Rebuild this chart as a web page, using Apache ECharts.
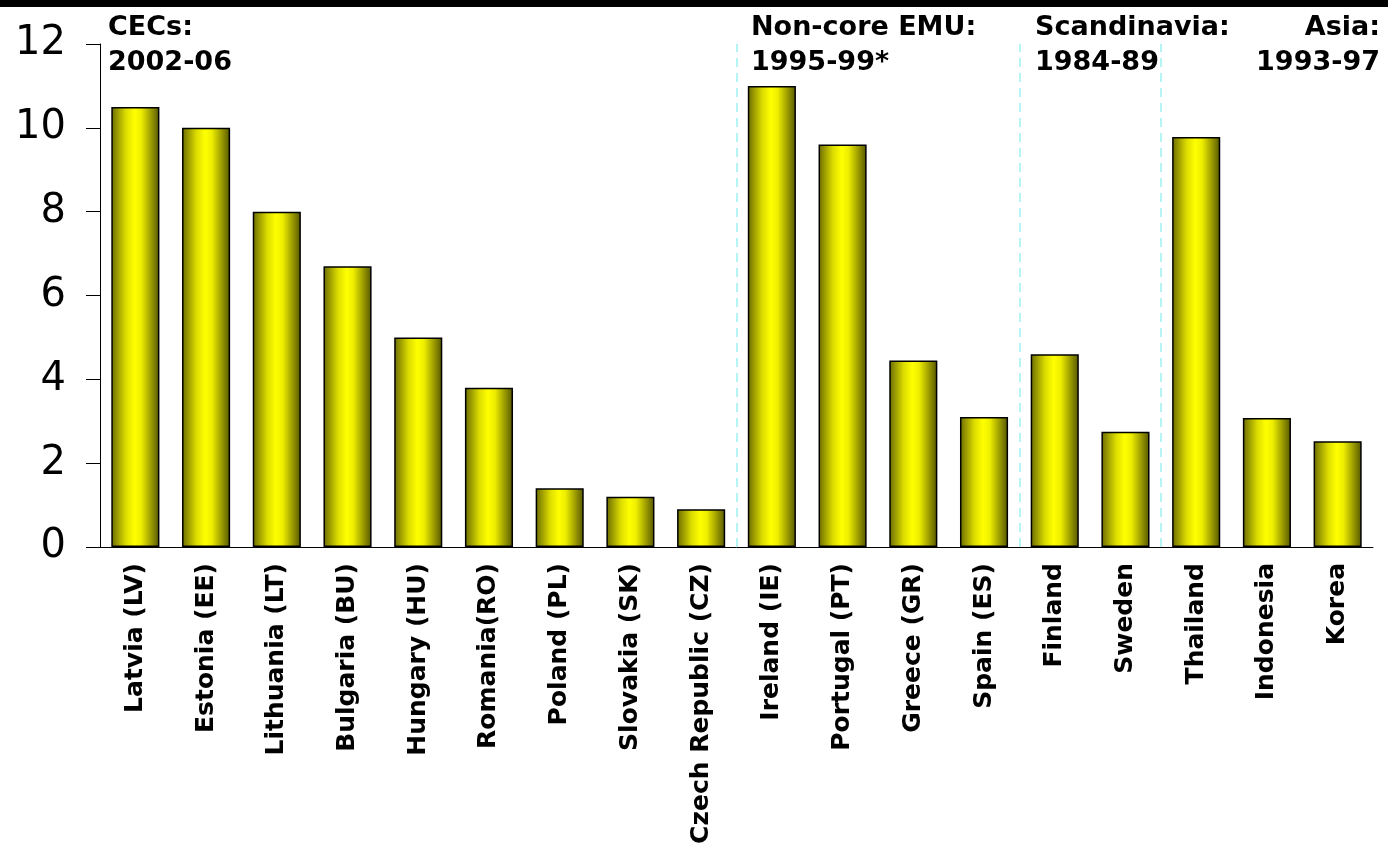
<!DOCTYPE html>
<html>
<head>
    <meta charset="UTF-8">
    <title>Chart</title>
    <script src="https://cdn.jsdelivr.net/npm/echarts@6/dist/echarts.min.js"></script>
    <style>
        body { margin: 0; padding: 0; background: #fff; }
        #chart { width: 1388px; height: 852px; }
    </style>
</head>
<body>
    <div id="chart"></div>
    <script>
        // categories and values
        const countries = [
            'Latvia (LV)', 'Estonia (EE)', 'Lithuania (LT)', 'Bulgaria (BU)', 'Hungary (HU)',
            'Romania(RO)', 'Poland (PL)', 'Slovakia (SK)', 'Czech Republic (CZ)',
            'Ireland (IE)', 'Portugal (PT)', 'Greece (GR)', 'Spain (ES)',
            'Finland', 'Sweden', 'Thailand', 'Indonesia', 'Korea'
        ];
        const values = [10.5, 10.0, 8.0, 6.7, 5.0, 3.8, 1.4, 1.2, 0.9,
                        11.0, 9.6, 4.45, 3.1, 4.6, 2.75, 9.78, 3.08, 2.52];
        // group separators (category boundaries)
        const separators = [9, 13, 15];
        const yTicks = [0, 2, 4, 6, 8, 10, 12];

        const myChart = echarts.init(document.getElementById('chart'));

        const font = 'DejaVu Sans, Verdana, sans-serif';
        const barColor = new echarts.graphic.LinearGradient(0, 0, 1, 0, [
            { offset: 0, color: '#6a6a00' },
            { offset: 0.3, color: '#dcdc00' },
            { offset: 0.48, color: '#ffff00' },
            { offset: 0.62, color: '#eeee00' },
            { offset: 1, color: '#555500' }
        ]);

        const groupText = (x, y, text, align) => ({
            type: 'text',
            left: align === 'right' ? null : x,
            right: align === 'right' ? x : null,
            top: y,
            style: {
                text: text,
                font: 'bold 27px ' + font,
                fill: '#000',
                textAlign: align || 'left',
                lineHeight: 35
            }
        });

        const option = {
            backgroundColor: '#fff',
            animation: false,
            grid: { left: 100, right: 15, top: 44, bottom: 305 },
            xAxis: [{
                type: 'category',
                data: countries,
                axisLine: { lineStyle: { color: '#000', width: 1 } },
                axisTick: { length: 8, lineStyle: { color: '#000' } },
                axisLabel: {
                    rotate: 90,
                    interval: 0,
                    margin: 16,
                    color: '#000',
                    fontFamily: font,
                    fontWeight: 'bold',
                    fontSize: 25
                }
            }, {
                type: 'value',
                min: 0,
                max: countries.length,
                show: false
            }],
            yAxis: {
                type: 'value',
                min: 0,
                max: yTicks[yTicks.length - 1],
                interval: 2,
                splitLine: { show: false },
                axisLine: { show: true, lineStyle: { color: '#000', width: 1 } },
                axisTick: { show: true, length: 14, lineStyle: { color: '#000' } },
                axisLabel: {
                    margin: 34,
                    color: '#000',
                    fontFamily: font,
                    fontSize: 40
                }
            },
            series: [{
                type: 'bar',
                data: values,
                barWidth: '68%',
                itemStyle: {
                    color: barColor,
                    borderColor: '#000',
                    borderWidth: 1.5
                }
            }, {
                type: 'line',
                xAxisIndex: 1,
                data: [],
                markLine: {
                    silent: true,
                    symbol: 'none',
                    label: { show: false },
                    lineStyle: { color: '#b4f4f4', type: [9, 6], width: 2 },
                    data: separators.map(v => ({ xAxis: v }))
                }
            }],
            graphic: [
                { type: 'rect', left: 0, top: 0, shape: { width: 1388, height: 7 }, style: { fill: '#000' } },
                groupText(108, 10, 'CECs:\n2002-06'),
                groupText(751, 10, 'Non-core EMU:\n1995-99*'),
                groupText(1035, 10, 'Scandinavia:\n1984-89'),
                groupText(8, 10, 'Asia:\n1993-97', 'right')
            ]
        };

        myChart.setOption(option);
    </script>
</body>
</html>
